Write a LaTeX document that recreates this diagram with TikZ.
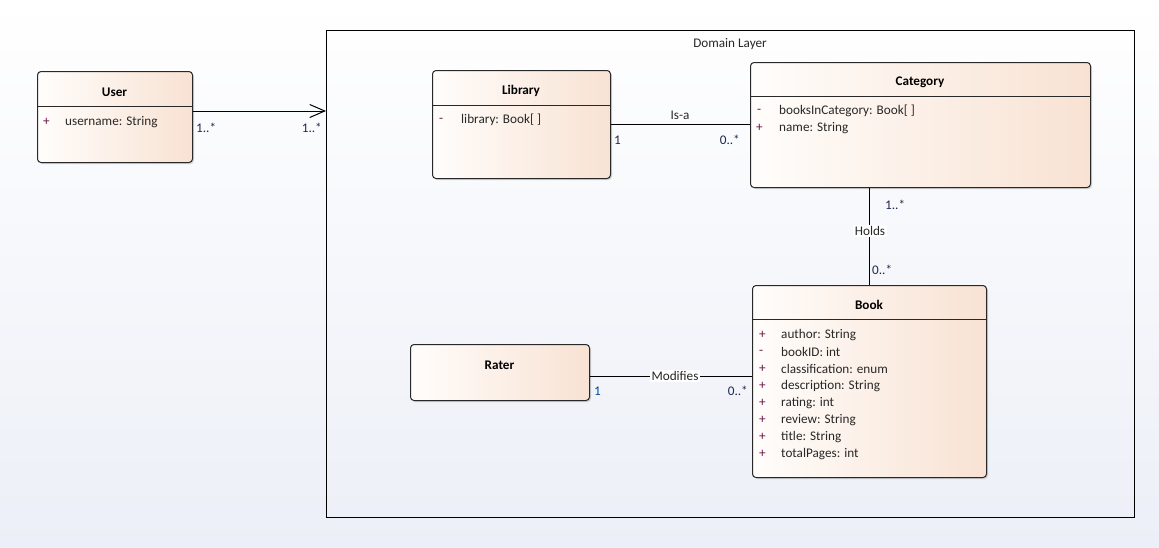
\documentclass[tikz,border=0pt]{standalone}
\usepackage{fontspec}
\setmainfont{Carlito}
\usetikzlibrary{arrows.meta,shadows}
\definecolor{peach}{RGB}{248,226,211}
\definecolor{cream}{RGB}{255,253,251}
\definecolor{bgbottom}{RGB}{236,239,247}
\definecolor{ink}{RGB}{40,40,40}
\definecolor{mult}{RGB}{30,40,80}
\definecolor{multblue}{RGB}{0,70,150}
\definecolor{vis}{RGB}{100,20,70}
\newcommand{\umlfont}{\fontsize{13.2}{15}\selectfont}
\tikzset{
  cls/.style={draw=ink, line width=1pt, rounded corners=3.5pt, inner sep=0pt,
    left color=cream, right color=peach, anchor=north west,
    drop shadow={shadow xshift=1.5pt, shadow yshift=-1.5pt, opacity=0.25, fill=black!60}},
  ctitle/.style={font=\umlfont\bfseries, text=black, inner sep=0pt},
  attr/.style={font=\umlfont, text=ink, anchor=west, inner sep=0pt},
  visib/.style={font=\umlfont, text=vis, anchor=west, inner sep=0pt},
  divider/.style={draw=ink, line width=1pt},
  assoc/.style={draw=black, line width=1pt},
  mlabel/.style={font=\umlfont, text=mult, inner sep=0pt},
  rlabel/.style={font=\umlfont, text=ink, inner sep=1.5pt},
  frame/.style={draw=black, line width=1pt, inner sep=0pt, anchor=north west, fill=none}
}
\begin{document}
\begin{tikzpicture}[x=1pt,y=-1pt]
  \useasboundingbox (0,0) rectangle (1159,547);
  % page background
  \shade[top color=white, bottom color=bgbottom] (0,0) rectangle (1159,547);

  % domain layer package frame
  \node[frame, minimum width=808pt, minimum height=487pt] (domain) at (326,30) {};
  \node[font=\umlfont, text=ink, inner sep=0pt] (domaintitle) at (730,44) {Domain Layer};

  % User
  \node[cls, minimum width=155pt, minimum height=91pt] (user) at (37,71) {};
  \draw[divider] (37,106) -- (192,106);
  \node[ctitle] (usert) at (114.5,92) {User};
  \node[visib] (userv1) at (43,122) {+};
  \node[attr] (usera1) at (65,122) {username: String};

  % Library
  \node[cls, minimum width=178pt, minimum height=108pt] (library) at (432,70) {};
  \draw[divider] (432,105) -- (610,105);
  \node[ctitle] (libraryt) at (521,91) {Library};
  \node[visib] (libraryv1) at (439,120) {-};
  \node[attr] (librarya1) at (461,120) {library: Book[ ]};

  % Category
  \node[cls, minimum width=340pt, minimum height=125pt] (category) at (750,62) {};
  \draw[divider] (750,96) -- (1090,96);
  \node[ctitle] (categoryt) at (920,82) {Category};
  \node[visib] (categoryv1) at (757,111) {-};
  \node[attr] (categorya1) at (779,111) {booksInCategory: Book[ ]};
  \node[visib] (categoryv2) at (756,128) {+};
  \node[attr] (categorya2) at (779,128) {name: String};

  % Book
  \node[cls, minimum width=234pt, minimum height=192pt] (book) at (752,285) {};
  \draw[divider] (752,319) -- (986,319);
  \node[ctitle] (bookt) at (869,305) {Book};
  \foreach \v/\a [count=\i] in {+/author: String, -/bookID: int, +/classification: enum,
      +/description: String, +/rating: int, +/review: String, +/title: String,
      +/totalPages: int}{
    \node[visib] (bookv\i) at (759,318+17*\i) {\v};
    \node[attr] (booka\i) at (781,318+17*\i) {\a};
  }

  % Rater
  \node[cls, minimum width=179pt, minimum height=56pt] (rater) at (410,344) {};
  \node[ctitle] (ratert) at (499.5,365) {Rater};

  % User -> domain layer
  \draw[assoc, -{Straight Barb[length=15pt, width=13pt, line width=1pt]}]
    (user.east |- 0,111) -- (domain.west |- 0,111);
  \node[mlabel, anchor=west] (m1) at (196,128) {1..*};
  \node[mlabel, anchor=east] (m2) at (322,128) {1..*};

  % Library -- Category
  \draw[assoc] (library.east |- 0,124) -- (category.west |- 0,124);
  \node[rlabel] (isa) at (680,115) {Is-a};
  \node[mlabel, anchor=west] (m3) at (614,140) {1};
  \node[mlabel, anchor=east] (m4) at (740,140) {0..*};

  % Category -- Book
  \draw[assoc] (category.south -| 869,0) -- (book.north -| 869,0);
  \node[rlabel, fill=white] (holds) at (870,231) {Holds};
  \node[mlabel, anchor=west] (m5) at (885,205) {1..*};
  \node[mlabel, anchor=west] (m6) at (872,270) {0..*};

  % Rater -- Book
  \draw[assoc] (rater.east |- 0,376) -- (book.west |- 0,376);
  \node[rlabel, fill=white] (modifies) at (675,376) {Modifies};
  \node[mlabel, text=multblue, anchor=west] (m7) at (594,391) {1};
  \node[mlabel, anchor=east] (m8) at (748,391) {0..*};
\end{tikzpicture}
\end{document}
